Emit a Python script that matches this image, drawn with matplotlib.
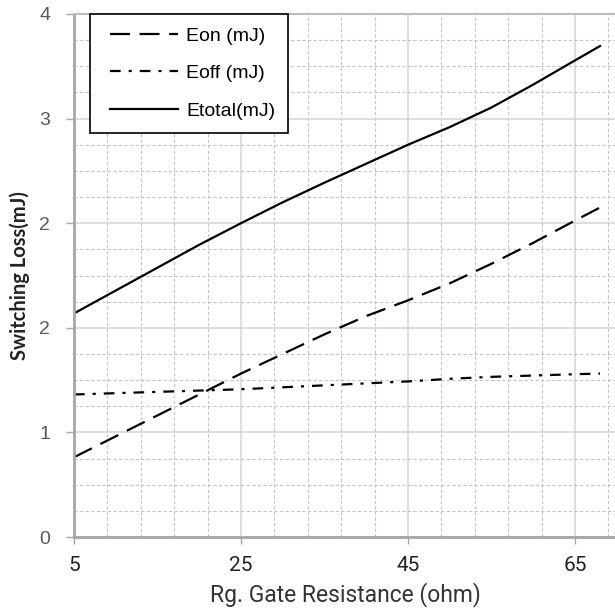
import numpy as np
import matplotlib
matplotlib.use('Agg')
import matplotlib.pyplot as plt
from matplotlib.ticker import MultipleLocator, FixedLocator
from matplotlib.lines import Line2D
from matplotlib.legend_handler import HandlerLine2D

## Data
rg = [5, 10, 15, 20, 25, 30, 35, 40, 45, 50, 55, 60, 65, 68]              # Rg (ohm)
eon = [0.61, 0.77, 0.93, 1.09, 1.25, 1.40, 1.55, 1.69, 1.81, 1.94, 2.09, 2.25, 2.42, 2.52]
eoff = [1.09, 1.10, 1.11, 1.12, 1.13, 1.145, 1.16, 1.175, 1.19, 1.21, 1.225, 1.235, 1.245, 1.25]
etotal = [1.71, 1.885, 2.06, 2.235, 2.40, 2.56, 2.71, 2.855, 3.00, 3.135, 3.285, 3.46, 3.645, 3.755]

ytick_vals = [0, 0.8, 1.6, 2.4, 3.2, 4.0]
ytick_labels = ['0', '1', '2', '2', '3', '4']
xtick_vals = [5, 25, 45, 65]

## Figure
fig = plt.figure(figsize=(6.15, 6.14), dpi=100, facecolor='white')
ax = fig.add_axes([0.1203, 0.1254, 0.8825, 0.8518])
ax.set_xlim(5, 70)
ax.set_ylim(0, 4)

# Grid
ax.xaxis.set_major_locator(FixedLocator(xtick_vals))
ax.xaxis.set_minor_locator(FixedLocator([v for v in np.arange(5, 71, 4) if v not in xtick_vals]))
ax.yaxis.set_major_locator(FixedLocator(ytick_vals))
ax.yaxis.set_minor_locator(MultipleLocator(0.2))
ax.grid(which='major', color='#d4d4d4', linewidth=1.1, linestyle='-')
ax.grid(which='minor', color='#c4c4c4', linewidth=0.8, linestyle=(0, (3, 2)))
ax.set_axisbelow(True)

# Lines
ax.plot(rg, eon, color='black', linewidth=1.6, linestyle=(0, (9, 4.3)), label='Eon (mJ)')
ax.plot(rg, eoff, color='black', linewidth=1.6, linestyle=(0, (4.8, 3.6, 1.4, 3.6)), label='Eoff (mJ)')
ax.plot(rg, etotal, color='black', linewidth=1.6, linestyle='-', label='Etotal(mJ)')

# Spines
ax.spines['right'].set_visible(False)
ax.spines['top'].set_color('#bdbdbd')
ax.spines['top'].set_linewidth(1.5)
for s in ['left', 'bottom']:
    ax.spines[s].set_color('#a6a6a6')
    ax.spines[s].set_linewidth(2)

# Ticks
ax.set_yticklabels(ytick_labels)
ax.set_xticklabels([str(v) for v in xtick_vals])
ax.tick_params(axis='y', which='major', length=6, width=1, color='#a6a6a6',
               labelsize=14, labelcolor='#595959', pad=11)
ax.tick_params(axis='x', which='major', length=5, width=1, color='#a6a6a6',
               labelsize=15, labelcolor='#222222', pad=9)
ax.tick_params(which='minor', length=0)
for lab in ax.get_yticklabels():
    lab.set_family('Liberation Sans')
for lab in ax.get_xticklabels():
    lab.set_family('Roboto')

ax.set_xlabel('Rg. Gate Resistance (ohm)', family='Roboto', fontsize=16.5,
              color='#333333', labelpad=5)
ax.set_ylabel('Switching Loss(mJ)', family='Lato', fontweight='bold', fontsize=14.5,
              color='#222222', labelpad=7)

# Legend
leg = ax.legend(loc='upper left', bbox_to_anchor=(0.0295, 1.0), fancybox=False,
                framealpha=1, edgecolor='black', handlelength=3.86, handletextpad=0.41,
                labelspacing=1.02, borderpad=0.67, borderaxespad=0,
                handler_map={Line2D: HandlerLine2D(xpad=0.36)},
                prop={'family': 'Liberation Sans', 'size': 14})
leg.get_frame().set_linewidth(1.2)

fig.savefig('out.png', dpi=100, facecolor='white')
